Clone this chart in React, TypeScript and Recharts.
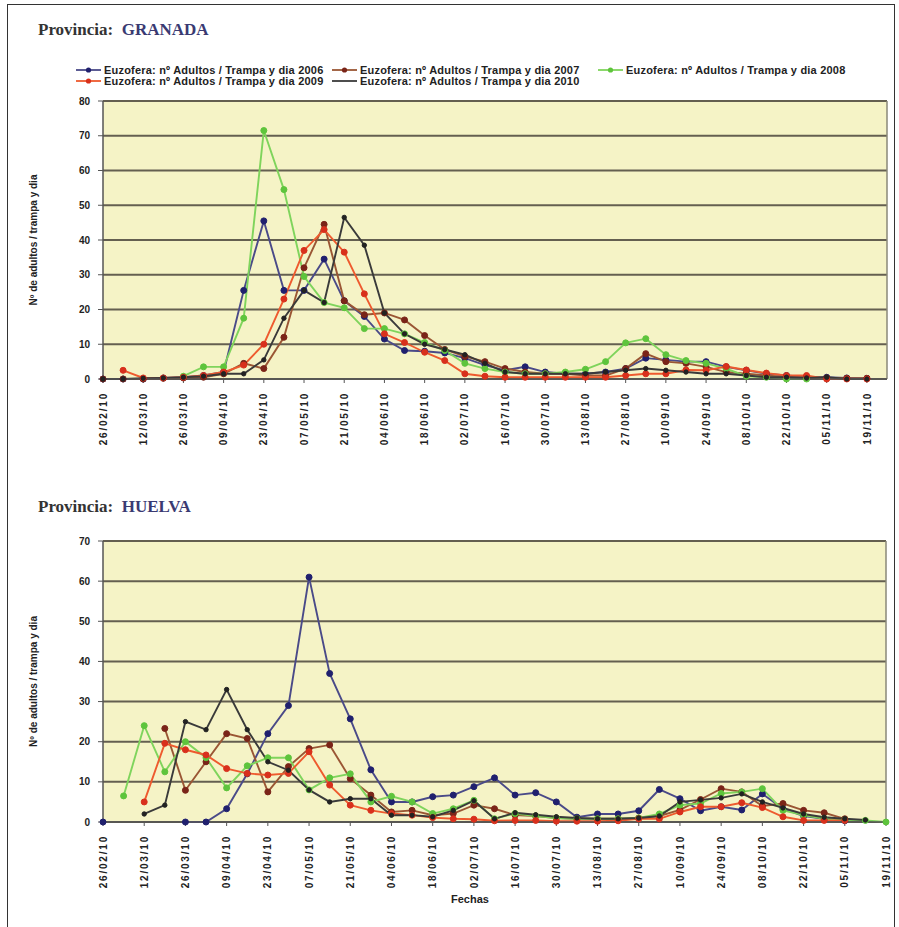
import React from 'react';
import { LineChart, Line, XAxis, YAxis, CartesianGrid, ReferenceLine } from 'recharts';

// ---------- categories ----------
const weeks = [
  '26/02/10', '05/03/10', '12/03/10', '19/03/10', '26/03/10', '02/04/10', '09/04/10', '16/04/10',
  '23/04/10', '30/04/10', '07/05/10', '14/05/10', '21/05/10', '28/05/10', '04/06/10', '11/06/10',
  '18/06/10', '25/06/10', '02/07/10', '09/07/10', '16/07/10', '23/07/10', '30/07/10', '06/08/10',
  '13/08/10', '20/08/10', '27/08/10', '03/09/10', '10/09/10', '17/09/10', '24/09/10', '01/10/10',
  '08/10/10', '15/10/10', '22/10/10', '29/10/10', '05/11/10', '12/11/10', '19/11/10',
];
const granadaExtraWeek = '26/11/10';

// ---------- GRANADA ----------
const granada2006 = [0, 0, 0, 0.3, 0.5, 1, 2, 25.5, 45.5, 25.5, 25.5, 34.5, 22.5, 18, 11.5, 8.2, 8, 7.5, 6, 4, 2.5, 3.5, 2, 1.5, 1.5, 2, 3, 6, 5.5, 5, 5, 3.5, 2.5, 1.5, 1, 0.5, 0.5, 0.3, 0.2];
const granada2007 = [0, 0, 0, 0.2, 0.3, 0.5, 1.5, 4.5, 3, 12, 32, 44.5, 22.5, 18.5, 19, 17, 12.5, 8.5, 6.5, 5, 3, 2, 1.5, 1.5, 1, 1, 3, 7.3, 5, 4.5, 3.5, 2, 1.5, 1, 0.5, 0.5, 0.3, 0.2, 0.2];
const granada2008 = [null, null, null, null, 0.8, 3.5, 3.5, 17.5, 71.5, 54.5, 29.5, 22, 20.5, 14.5, 14.5, 13, 10.5, 8.2, 4.5, 3, 2, 1.5, 1.5, 2, 2.8, 5, 10.4, 11.6, 7, 5.3, 4.5, 3, 0.8, 0.5, 0, 0, null, null, null];
const granada2009 = [null, 2.5, 0.3, 0.3, 0.5, 1, 2, 4, 10, 23, 37, 43, 36.5, 24.5, 13, 10.5, 7.7, 5.3, 1.5, 0.8, 0.5, 0.5, 0.5, 0.5, 0.5, 0.5, 1, 1.5, 1.5, 2.6, 2.5, 3.6, 2.6, 1.7, 1, 1, 0, 0, 0];
const granada2010 = [0, 0, 0.2, 0.3, 0.5, 0.8, 1.5, 1.5, 5.5, 17.5, 25.5, 22, 46.5, 38.5, 19, 13, 10, 8.5, 7, 4.5, 2, 1.5, 1.5, 1.5, 1.5, 2, 2.5, 3, 2.5, 2, 1.5, 1.5, 1, 0.5, 0.5, 0.3, 0.5, 0, 0];

// ---------- HUELVA ----------
const huelva2006 = [0, null, null, null, 0, 0, 3.3, 12, 22, 29, 61, 37, 25.7, 13, 5, 5, 6.3, 6.7, 8.8, 11, 6.7, 7.3, 5, 1.2, 2, 2, 2.8, 8.1, 5.8, 2.8, 3.8, 3, 7, 3.3, 1.5, 0.8, 0.3, null, null];
const huelva2007 = [null, null, null, 23.3, 7.9, 15, 22, 20.8, 7.5, 13.8, 18.3, 19.2, 10.8, 6.7, 2.5, 2.9, 1.7, 2.1, 4.2, 3.3, 1.7, 1.5, 1, 0.8, 0.8, 0.8, 1, 1.5, 3, 5.6, 8.3, 7.5, 4, 4.6, 2.9, 2.3, 0.8, null, null];
const huelva2008 = [null, 6.5, 24, 12.5, 20, 16, 8.5, 14, 16, 16, 8, 11, 12, 5, 6.4, 5, 2.1, 3.3, 5.4, 0.8, 2.1, 1.5, 1, 0.8, 0.8, 0.8, 1, 2, 4.2, 4.6, 7.1, 7.5, 8.3, 2.9, 1.7, 0.8, 0.5, 0.4, 0];
const huelva2009 = [null, null, 5, 19.6, 18, 16.7, 13.3, 12.1, 11.7, 12.1, 17.5, 9.2, 4.2, 2.9, 2.1, 1.7, 1.1, 0.8, 0.7, 0.3, 0.4, 0.4, 0.2, 0.2, 0.2, 0.3, 0.8, 0.8, 2.5, 3.8, 3.8, 4.8, 3.6, 1.3, 0.4, 0.4, 0.4, null, null];
const huelva2010 = [null, null, 2, 4.2, 25, 23, 33, 23, 15, 12.9, 8, 5, 5.8, 5.8, 1.7, 1.7, 1.3, 2.9, 5.3, 0.8, 2.3, 1.8, 1.3, 1, 0.8, 0.8, 1, 1.5, 5, 5.5, 6, 7, 5, 3.5, 2, 1.2, 0.8, 0.5, null];

// ---------- ticks / labels ----------
const granadaYTicks = [0, 10, 20, 30, 40, 50, 60, 70, 80];
const huelvaYTicks = [0, 10, 20, 30, 40, 50, 60, 70];
const seriesKeys = ['s2006', 's2007', 's2008', 's2009', 's2010'];
const seriesNames = [
  'Euzofera: nº Adultos / Trampa y dia 2006',
  'Euzofera: nº Adultos / Trampa y dia 2007',
  'Euzofera: nº Adultos / Trampa y dia 2008',
  'Euzofera: nº Adultos / Trampa y dia 2009',
  'Euzofera: nº Adultos / Trampa y dia 2010',
];
const yTitle = 'Nº de adultos / trampa y dia';
const xTitle = 'Fechas';

const lineColors = ['#4a4a88', '#9a5634', '#7fd45c', '#ee5a2e', '#3a3a3a'];
const dotColors = ['#20206e', '#7a2418', '#5ec43c', '#d8301c', '#222222'];

const FONT = 'Arial, "Liberation Sans", Helvetica, sans-serif';
const SERIF = '"Liberation Serif", "Times New Roman", serif';

function buildRows(cats: string[], arrays: (number | null)[][]) {
  return cats.map((w, i) => {
    const row: any = { week: w };
    seriesKeys.forEach((k, j) => {
      const v = arrays[j][i];
      row[k] = v === undefined ? null : v;
    });
    return row;
  });
}

const granadaData = buildRows([...weeks, granadaExtraWeek], [granada2006, granada2007, granada2008, granada2009, granada2010]);
const huelvaData = buildRows(weeks, [huelva2006, huelva2007, huelva2008, huelva2009, huelva2010]);

function DateTick(props: any) {
  const { x, y, payload } = props;
  return (
    <g transform={`translate(${x},${y + 7})`}>
      <text transform="rotate(-90)" textAnchor="end" dy="0.36em" fontSize={10} fontWeight="bold"
        fill="#222" fontFamily={FONT} letterSpacing={1.8}>{payload.value}</text>
    </g>
  );
}

function YTitle(props: any) {
  const vb = props.viewBox || {};
  const cy = vb.y + vb.height / 2;
  const cx = 33;
  return (
    <text x={cx} y={cy} transform={`rotate(-90, ${cx}, ${cy})`} textAnchor="middle" dy="0.35em"
      fontSize={10} fontWeight="bold" fill="#222" fontFamily={FONT}>{yTitle}</text>
  );
}

function XTitle() {
  return (
    <text x={470} y={369} textAnchor="middle" dy="0.35em" fontSize={11} fontWeight="bold"
      fill="#222" fontFamily={FONT}>{xTitle}</text>
  );
}

function renderLines() {
  return seriesKeys.map((k, j) => (
    <Line key={k} type="linear" dataKey={k} name={seriesNames[j]} stroke={lineColors[j]} strokeWidth={1.9}
      dot={{ r: j === 4 ? 2.2 : 3, fill: dotColors[j], stroke: dotColors[j], strokeWidth: 1 }}
      activeDot={false} isAnimationActive={false} connectNulls={false} />
  ));
}

function Panel(props: { data: any[]; ticks: number[]; max: number; height: number; xHeight: number; right: number; last: string; showX?: boolean }) {
  const { data, ticks, max, height, xHeight, right, last, showX } = props;
  return (
    <LineChart width={899} height={height} data={data} margin={{ top: 11, right, bottom: 0, left: 63 }}>
      <CartesianGrid vertical={false} stroke="#645f50" strokeWidth={2} fill="#f5f3c6" />
      <XAxis dataKey="week" interval={1} tick={<DateTick />} tickSize={4} tickMargin={2} height={xHeight}
        axisLine={{ stroke: '#555', strokeWidth: 1.5 }} tickLine={{ stroke: '#555' }}
        label={showX ? <XTitle /> : undefined} />
      <YAxis domain={[0, max]} ticks={ticks} interval={0} width={40} tickSize={5} tickMargin={8}
        axisLine={{ stroke: '#555', strokeWidth: 1.5 }} tickLine={{ stroke: '#555' }}
        tick={{ fontSize: 10, fontWeight: 'bold', fill: '#222', fontFamily: FONT }}
        label={<YTitle />} />
      <ReferenceLine x={last} stroke="#8a8878" strokeWidth={1.5} />
      {renderLines()}
    </LineChart>
  );
}

function LegendBox() {
  const items = [
    { i: 0, x: 76, y: 70 },
    { i: 1, x: 332, y: 70 },
    { i: 2, x: 598, y: 70 },
    { i: 3, x: 76, y: 81 },
    { i: 4, x: 332, y: 81 },
  ];
  return (
    <svg width={899} height={100} style={{ position: 'absolute', left: 0, top: 0 }}>
      {items.map(({ i, x, y }) => (
        <g key={i}>
          <line x1={x} y1={y} x2={x + 25} y2={y} stroke={lineColors[i]} strokeWidth={1.8} />
          <circle cx={x + 12.5} cy={y} r={i === 4 ? 0 : 2.6} fill={dotColors[i]} />
          <text x={x + 28} y={y} dy="0.35em" fontSize={11} fontWeight="bold" fill="#222" fontFamily={FONT}
            letterSpacing={0.2}>{seriesNames[i]}</text>
        </g>
      ))}
    </svg>
  );
}

function Title(props: { top: number; name: string }) {
  return (
    <div style={{ position: 'absolute', left: 38, top: props.top, fontFamily: SERIF, fontWeight: 'bold', fontSize: 17, whiteSpace: 'pre', lineHeight: '20px' }}>
      <span style={{ color: '#333' }}>Provincia:  </span>
      <span style={{ color: '#3a3a72' }}>{props.name}</span>
    </div>
  );
}

export default function App() {
  return (
    <div style={{ position: 'absolute', left: 0, top: 0, width: 899, height: 927, overflow: 'hidden', background: '#fff' }}>
      <style>{'body{margin:0;overflow:hidden}'}</style>
      <div style={{ position: 'absolute', left: 7, top: 4, width: 886, height: 940, borderLeft: '1px solid #333', borderTop: '1px solid #333', borderRight: '1px solid #333' }} />
      <Title top={20} name="GRANADA" />
      <LegendBox />
      <div style={{ position: 'absolute', left: 0, top: 90 }}>
        <Panel data={granadaData} ticks={granadaYTicks} max={80} height={359} xHeight={70} right={12} last={granadaExtraWeek} />
      </div>
      <Title top={497} name="HUELVA" />
      <div style={{ position: 'absolute', left: 0, top: 530 }}>
        <Panel data={huelvaData} ticks={huelvaYTicks} max={70} height={377} xHeight={85} right={13} last={weeks[weeks.length - 1]} showX />
      </div>
    </div>
  );
}
